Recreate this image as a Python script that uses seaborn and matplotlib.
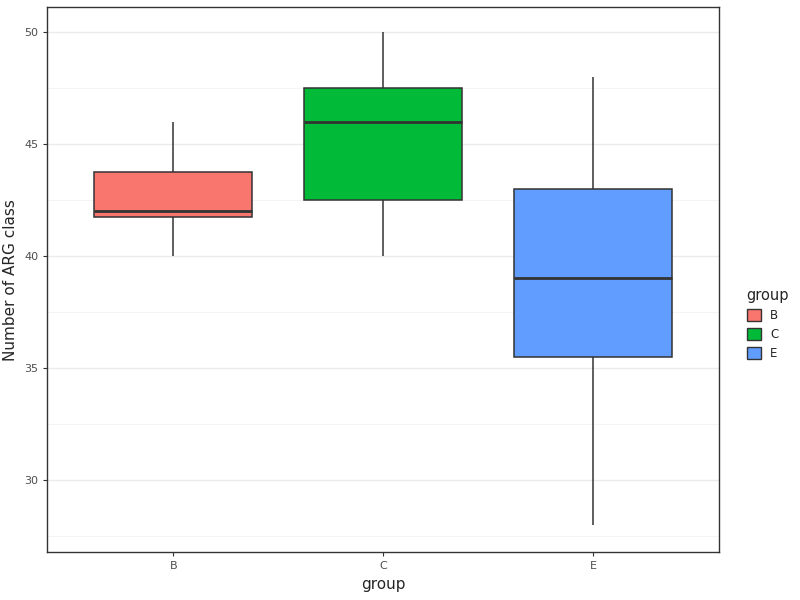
import matplotlib
matplotlib.use("Agg")
import matplotlib.pyplot as plt
import seaborn as sns
import pandas as pd
from matplotlib.patches import Patch

groups = ["B", "C", "E"]
vals_B = [40, 41.75, 42, 43.75, 46]
vals_C = [40, 42.5, 46, 47.5, 50]
vals_E = [28, 35.5, 39, 43, 48]
colors = ["#F8766D", "#00BA38", "#619CFF"]

df = pd.DataFrame({
    "group": ["B"] * len(vals_B) + ["C"] * len(vals_C) + ["E"] * len(vals_E),
    "value": vals_B + vals_C + vals_E,
})

sns.set_style("white")
fig = plt.figure(figsize=(8, 6), dpi=100)
ax = fig.add_axes([0.059, 0.08, 0.84, 0.908])
sns.boxplot(data=df, x="group", y="value", hue="group", palette=colors,
            width=0.75, whis=10, linewidth=1.1, linecolor="#333333",
            showcaps=False, dodge=False, legend=False, ax=ax,
            medianprops=dict(linewidth=2, color="#333333"), saturation=1)
ax.set_ylim(26.8, 51.1)
ax.set_xlim(-0.6, 2.6)
ax.set_yticks([30, 35, 40, 45, 50])
ax.set_yticks([27.5, 32.5, 37.5, 42.5, 47.5], minor=True)
ax.grid(axis="y", which="major", color="#EBEBEB", linewidth=1)
ax.grid(axis="y", which="minor", color="#F2F2F2", linewidth=0.6)
ax.set_axisbelow(True)
for s in ax.spines.values():
    s.set_color("#333333"); s.set_linewidth(1)
ax.tick_params(axis="both", which="major", length=3, color="#333333",
               labelsize=8, labelcolor="#4D4D4D", left=True, bottom=True)
ax.tick_params(axis="y", which="minor", length=0)
ax.set_xlabel("group", fontsize=11)
ax.set_ylabel("Number of ARG class", fontsize=11)

handles = [Patch(facecolor=c, edgecolor="#333333", label=g) for g, c in zip(groups, colors)]
fig.legend(handles=handles, title="group", loc="center left", bbox_to_anchor=(0.92, 0.46),
           frameon=False, fontsize=8.5, title_fontsize=10.5, handlelength=1.2,
           handleheight=1.2, alignment="left")
fig.savefig("out.png", dpi=100)
